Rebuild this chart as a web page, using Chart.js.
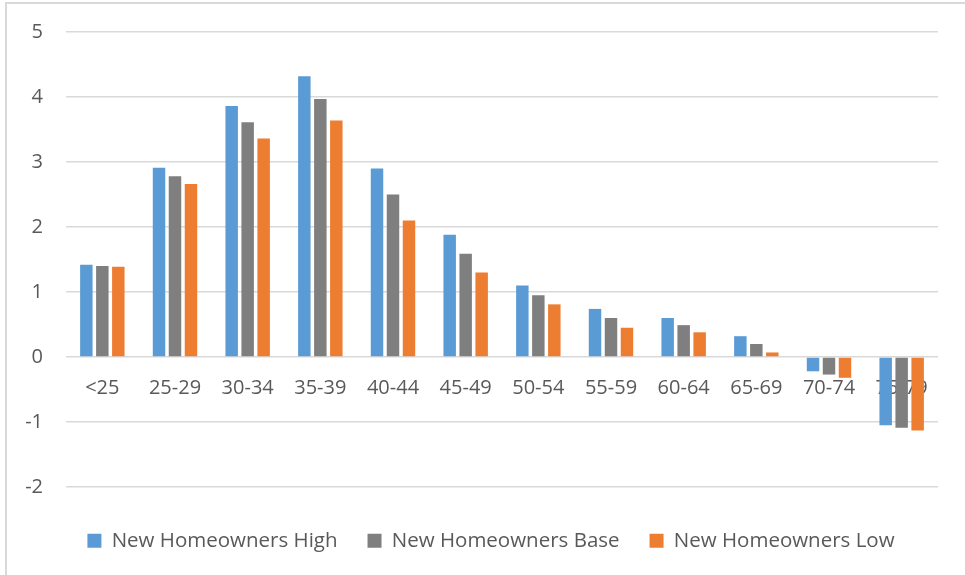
<!DOCTYPE html>
<html>
<head>
<meta charset="utf-8">
<script src="https://cdn.jsdelivr.net/npm/chart.js@4.4.1/dist/chart.umd.min.js"></script>
<style>
  html, body { margin: 0; padding: 0; background: #fff; }
  #frame {
    position: absolute; left: 5px; top: 2px; width: 960px; height: 573px;
    border-top: 2px solid #d9d9d9; border-left: 2px solid #d9d9d9;
  }
  #wrap { position: absolute; left: 0; top: 0; width: 965px; height: 575px; }
</style>
</head>
<body>
<div id="frame"></div>
<div id="wrap"><canvas id="homeChart" width="965" height="575"></canvas></div>
<script>
  /* ---------- data ---------- */
  var AGE_GROUPS = ["<25", "25-29", "30-34", "35-39", "40-44", "45-49",
                    "50-54", "55-59", "60-64", "65-69", "70-74", "75-79"];
  var HIGH = [1.42, 2.91, 3.86, 4.32, 2.90, 1.88, 1.10, 0.74, 0.60, 0.32, -0.22, -1.05];
  var BASE = [1.40, 2.78, 3.61, 3.97, 2.50, 1.59, 0.95, 0.60, 0.49, 0.20, -0.27, -1.09];
  var LOW  = [1.39, 2.66, 3.36, 3.64, 2.10, 1.30, 0.81, 0.45, 0.38, 0.07, -0.32, -1.13];
  var Y_MIN = -2, Y_MAX = 5;

  var FONT = '"Open Sans", "Noto Sans", sans-serif';
  var FONT_SIZE = 20;
  var TEXT = "#595959";
  var GRID = "#d9d9d9";

  function series(label, values, color) {
    return {
      label: label,
      data: values,
      backgroundColor: color,
      borderWidth: 0,
      categoryPercentage: 0.66,
      barPercentage: 0.78
    };
  }

  new Chart(document.getElementById("homeChart"), {
    type: "bar",
    data: {
      labels: AGE_GROUPS,
      datasets: [
        series("New Homeowners High", HIGH, "#5b9bd5"),
        series("New Homeowners Base", BASE, "#7f7f7f"),
        series("New Homeowners Low", LOW, "#ed7d31")
      ]
    },
    options: {
      responsive: false,
      animation: false,
      layout: { padding: { left: 22, right: 5, top: 32, bottom: 14 } },
      plugins: {
        tooltip: { enabled: false },
        legend: {
          position: "bottom",
          // blank title just adds space between the plot and the legend row
          title: { display: true, text: " ", padding: 0, font: { size: 10, lineHeight: 1.35 } },
          labels: {
            boxWidth: 14,
            boxHeight: 14,
            padding: 30,
            color: TEXT,
            font: { family: FONT, size: 20.5 }
          }
        }
      },
      scales: {
        x: {
          position: { y: 0 },   // category labels sit under the zero line
          z: 1,
          grid: { display: false, drawTicks: false },
          border: { display: false },
          ticks: { color: TEXT, padding: 19, maxRotation: 0, autoSkip: false, font: { family: FONT, size: FONT_SIZE } }
        },
        y: {
          min: Y_MIN,
          max: Y_MAX,
          afterFit: function (scale) { scale.width = 44; },
          // invisible tick marks give the label gap without padding the top
          grid: { color: GRID, lineWidth: 1.5, drawTicks: true, tickLength: 23, tickColor: "rgba(0,0,0,0)" },
          border: { display: false },
          ticks: { stepSize: 1, color: TEXT, padding: 0, font: { family: FONT, size: FONT_SIZE } }
        },
        // empty margin on the right so the plot ends where the legend is centred
        yRight: {
          position: "right",
          afterFit: function (scale) { scale.width = 22; },
          grid: { display: false, drawTicks: false },
          border: { display: false },
          ticks: { display: false }
        }
      }
    }
  });
</script>
</body>
</html>
